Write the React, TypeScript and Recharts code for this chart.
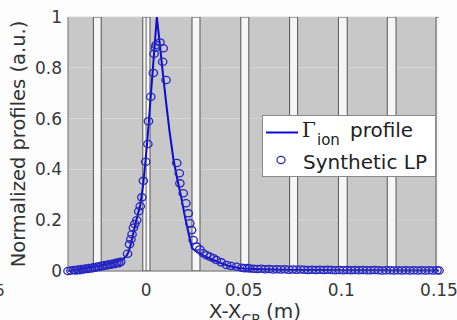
import React from 'react';
import {
  ComposedChart, Line, Scatter, XAxis, YAxis, CartesianGrid, ReferenceArea, ReferenceLine, Legend, Label,
} from 'recharts';

// Γ_ion profile (line)
const profileX = [-0.04, -0.036, -0.032, -0.028, -0.024, -0.02, -0.016, -0.012, -0.01, -0.009, -0.008, -0.0065, -0.005, -0.003, -0.0015, -0.0005, 0.0005, 0.0015, 0.0025, 0.0035, 0.0045, 0.0055, 0.0065, 0.008, 0.01, 0.012, 0.014, 0.016, 0.018, 0.02, 0.022, 0.0235, 0.026, 0.03, 0.034, 0.038, 0.042, 0.046, 0.05, 0.06, 0.07, 0.08, 0.09, 0.1, 0.11, 0.12, 0.13, 0.14, 0.15];
const profileY = [0.0, 0.004, 0.01, 0.015, 0.02, 0.027, 0.034, 0.045, 0.06, 0.075, 0.1, 0.15, 0.2, 0.26, 0.34, 0.42, 0.5, 0.6, 0.7, 0.8, 0.9, 1.0, 0.93, 0.82, 0.68, 0.55, 0.44, 0.36, 0.29, 0.21, 0.14, 0.09, 0.075, 0.058, 0.045, 0.032, 0.021, 0.014, 0.01, 0.007, 0.005, 0.004, 0.004, 0.003, 0.003, 0.003, 0.002, 0.002, 0.002];

// Synthetic LP (circles)
const lpX = [-0.04, -0.0385, -0.037, -0.036, -0.035, -0.034, -0.033, -0.032, -0.031, -0.03, -0.029, -0.028, -0.027, -0.026, -0.025, -0.024, -0.023, -0.022, -0.021, -0.02, -0.019, -0.018, -0.017, -0.016, -0.015, -0.014, -0.013, -0.0095, -0.0085, -0.0078, -0.0072, -0.0065, -0.0058, -0.0048, -0.0038, -0.003, -0.0022, -0.0014, -0.0002, 0.0009, 0.0012, 0.0024, 0.0037, 0.0041, 0.0048, 0.0051, 0.0071, 0.0088, 0.0085, 0.0102, 0.0157, 0.017, 0.0173, 0.019, 0.0204, 0.0216, 0.0224, 0.0233, 0.0241, 0.0259, 0.0275, 0.0293, 0.031, 0.0327, 0.0345, 0.036, 0.0385, 0.0412, 0.0435, 0.0463, 0.049, 0.0505, 0.052, 0.053, 0.055, 0.057, 0.059, 0.061, 0.063, 0.065, 0.067, 0.069, 0.071, 0.073, 0.075, 0.077, 0.079, 0.081, 0.083, 0.085, 0.087, 0.089, 0.091, 0.093, 0.095, 0.097, 0.099, 0.101, 0.103, 0.105, 0.107, 0.109, 0.111, 0.113, 0.115, 0.117, 0.119, 0.121, 0.123, 0.125, 0.127, 0.129, 0.131, 0.133, 0.135, 0.137, 0.139, 0.141, 0.143, 0.145, 0.147, 0.149, 0.15];
const lpY = [0.0, 0.002, 0.004, 0.002, 0.006, 0.003, 0.008, 0.006, 0.01, 0.008, 0.012, 0.01, 0.015, 0.013, 0.018, 0.016, 0.021, 0.019, 0.024, 0.022, 0.027, 0.025, 0.03, 0.028, 0.033, 0.031, 0.036, 0.068, 0.105, 0.125, 0.145, 0.17, 0.185, 0.2, 0.235, 0.255, 0.29, 0.355, 0.43, 0.5, 0.59, 0.686, 0.78, 0.855, 0.88, 0.89, 0.9, 0.877, 0.824, 0.752, 0.425, 0.385, 0.345, 0.306, 0.267, 0.227, 0.188, 0.161, 0.122, 0.096, 0.085, 0.07, 0.062, 0.056, 0.05, 0.043, 0.034, 0.024, 0.02, 0.017, 0.013, 0.011, 0.012, 0.01, 0.009, 0.008, 0.009, 0.007, 0.008, 0.006, 0.007, 0.006, 0.007, 0.005, 0.006, 0.005, 0.006, 0.005, 0.004, 0.005, 0.004, 0.005, 0.004, 0.005, 0.004, 0.003, 0.004, 0.003, 0.004, 0.003, 0.004, 0.003, 0.004, 0.003, 0.003, 0.004, 0.003, 0.002, 0.003, 0.003, 0.002, 0.003, 0.002, 0.003, 0.002, 0.003, 0.002, 0.003, 0.002, 0.003, 0.002, 0.003, 0.002];

// white gaps between the gray tiles
const gapStart = [-0.027, -0.0017, 0.0235, 0.0485, 0.0735, 0.0985, 0.1235, 0.1485];
const gapEnd = [-0.023, 0.002, 0.0276, 0.0526, 0.0776, 0.103, 0.128, 0.152];

const xTicks = [0, 0.05, 0.1, 0.15];
const yTicks = [0, 0.2, 0.4, 0.6, 0.8, 1];

const profileData = profileX.map((x, i) => ({ x, y: profileY[i] }));
const lpData = lpX.map((x, i) => ({ x, y: lpY[i] }));

const BLUE = '#0c0cd0';
const CIRCLE = '#2626c0';
const FONT = '"DejaVu Sans", sans-serif';

const CircleShape = (props: any) => (
  <ellipse cx={props.cx} cy={props.cy} rx={4.2} ry={3.6} fill="none" stroke={CIRCLE} strokeWidth={1.3} />
);

const LegendBox = () => (
  <svg width={174} height={63} style={{ display: 'block' }}>
    <rect x={0.5} y={0.5} width={173} height={61} fill="#ffffff" stroke="#8a8a8a" />
    <line x1={4} x2={36} y1={17.5} y2={17.5} stroke={BLUE} strokeWidth={2} />
    <text x={40} y={22} fontFamily='"DejaVu Serif", serif' fontSize={20} fill="#222">Γ</text>
    <text x={55} y={30} fontFamily={FONT} fontSize={15} fill="#222">ion</text>
    <text x={88} y={22} fontFamily={FONT} fontSize={20} fill="#222">profile</text>
    <ellipse cx={19} cy={45} rx={4} ry={3.6} fill="none" stroke={CIRCLE} strokeWidth={1.2} />
    <text x={41} y={54} fontFamily={FONT} fontSize={20} fill="#222">Synthetic LP</text>
  </svg>
);

const XLabel = (props: any) => {
  const vb = props.viewBox || { x: 68, y: 271, width: 371, height: 49 };
  const cx = vb.x + vb.width / 2 + 1.5;
  const base = vb.y + 47;
  return (
    <g>
      <text x={cx} y={base} textAnchor="middle" fontFamily={FONT} fontSize={20} fill="#333">
        X-X<tspan fontSize={14} dy={6}>CP</tspan><tspan fontSize={20} dy={-6}>{' (m)'}</tspan>
      </text>
      <text x={5} y={296} textAnchor="end" fontFamily={FONT} fontSize={16} fill="#444">5</text>
    </g>
  );
};

const YLabel = (props: any) => {
  const vb = props.viewBox || { x: 0, y: 17, width: 68, height: 254 };
  const cx = vb.x + 25;
  const cy = vb.y + vb.height / 2;
  return (
    <text x={cx} y={cy} transform={`rotate(-90, ${cx}, ${cy})`} textAnchor="middle" fontFamily={FONT} fontSize={19.5} fill="#333">
      Normalized profiles (a.u.)
    </text>
  );
};

export default function App() {
  return (
    <div style={{ position: 'absolute', left: 0, top: 0, width: 457, height: 320, background: '#fdfdfd' }}>
      <ComposedChart width={457} height={320} margin={{ top: 17, right: 18, bottom: 0, left: 0 }}>
        <CartesianGrid vertical={false} stroke="#d6d6d6" fill="#c8c8c8" fillOpacity={1} />
        {gapStart.map((s, i) => (
          <ReferenceArea key={i} x1={s} x2={gapEnd[i]} ifOverflow="hidden" fill="#f6f6f6" fillOpacity={1} stroke="#555" strokeWidth={1} />
        ))}
        <ReferenceLine x={0} stroke="#666" strokeWidth={1} />
        <XAxis
          type="number" dataKey="x" domain={[-0.04, 0.15]} ticks={xTicks} height={49}
          tickSize={0} tickMargin={13} tickLine={false} axisLine={{ stroke: '#6e6e6e' }}
          tick={{ fill: '#383838', fontSize: 17, fontFamily: FONT }} interval={0}
        >
          <Label content={XLabel} />
        </XAxis>
        <XAxis xAxisId="top" orientation="top" type="number" domain={[-0.04, 0.15]} height={0} tick={false} tickLine={false} axisLine={{ stroke: '#6e6e6e' }} />
        <YAxis
          type="number" dataKey="y" domain={[0, 1]} ticks={yTicks} width={68}
          tickSize={0} tickMargin={6} tickLine={false} axisLine={{ stroke: '#6e6e6e' }}
          tick={{ fill: '#383838', fontSize: 17, fontFamily: FONT }} interval={0}
        >
          <Label content={YLabel} />
        </YAxis>
        <YAxis yAxisId="right" orientation="right" domain={[0, 1]} width={0} tick={false} tickLine={false} axisLine={{ stroke: '#6e6e6e' }} />
        <Scatter data={lpData} dataKey="y" shape={CircleShape} isAnimationActive={false} name="Synthetic LP" />
        <Line data={profileData} dataKey="y" type="linear" stroke={BLUE} strokeWidth={2} dot={false} isAnimationActive={false} legendType="line" name="profile" />
        <Legend
          layout="vertical" align="center" verticalAlign="middle"
          content={() => <LegendBox />}
          wrapperStyle={{ left: 262, top: 115, width: 174, height: 63 }}
        />
      </ComposedChart>
    </div>
  );
}
